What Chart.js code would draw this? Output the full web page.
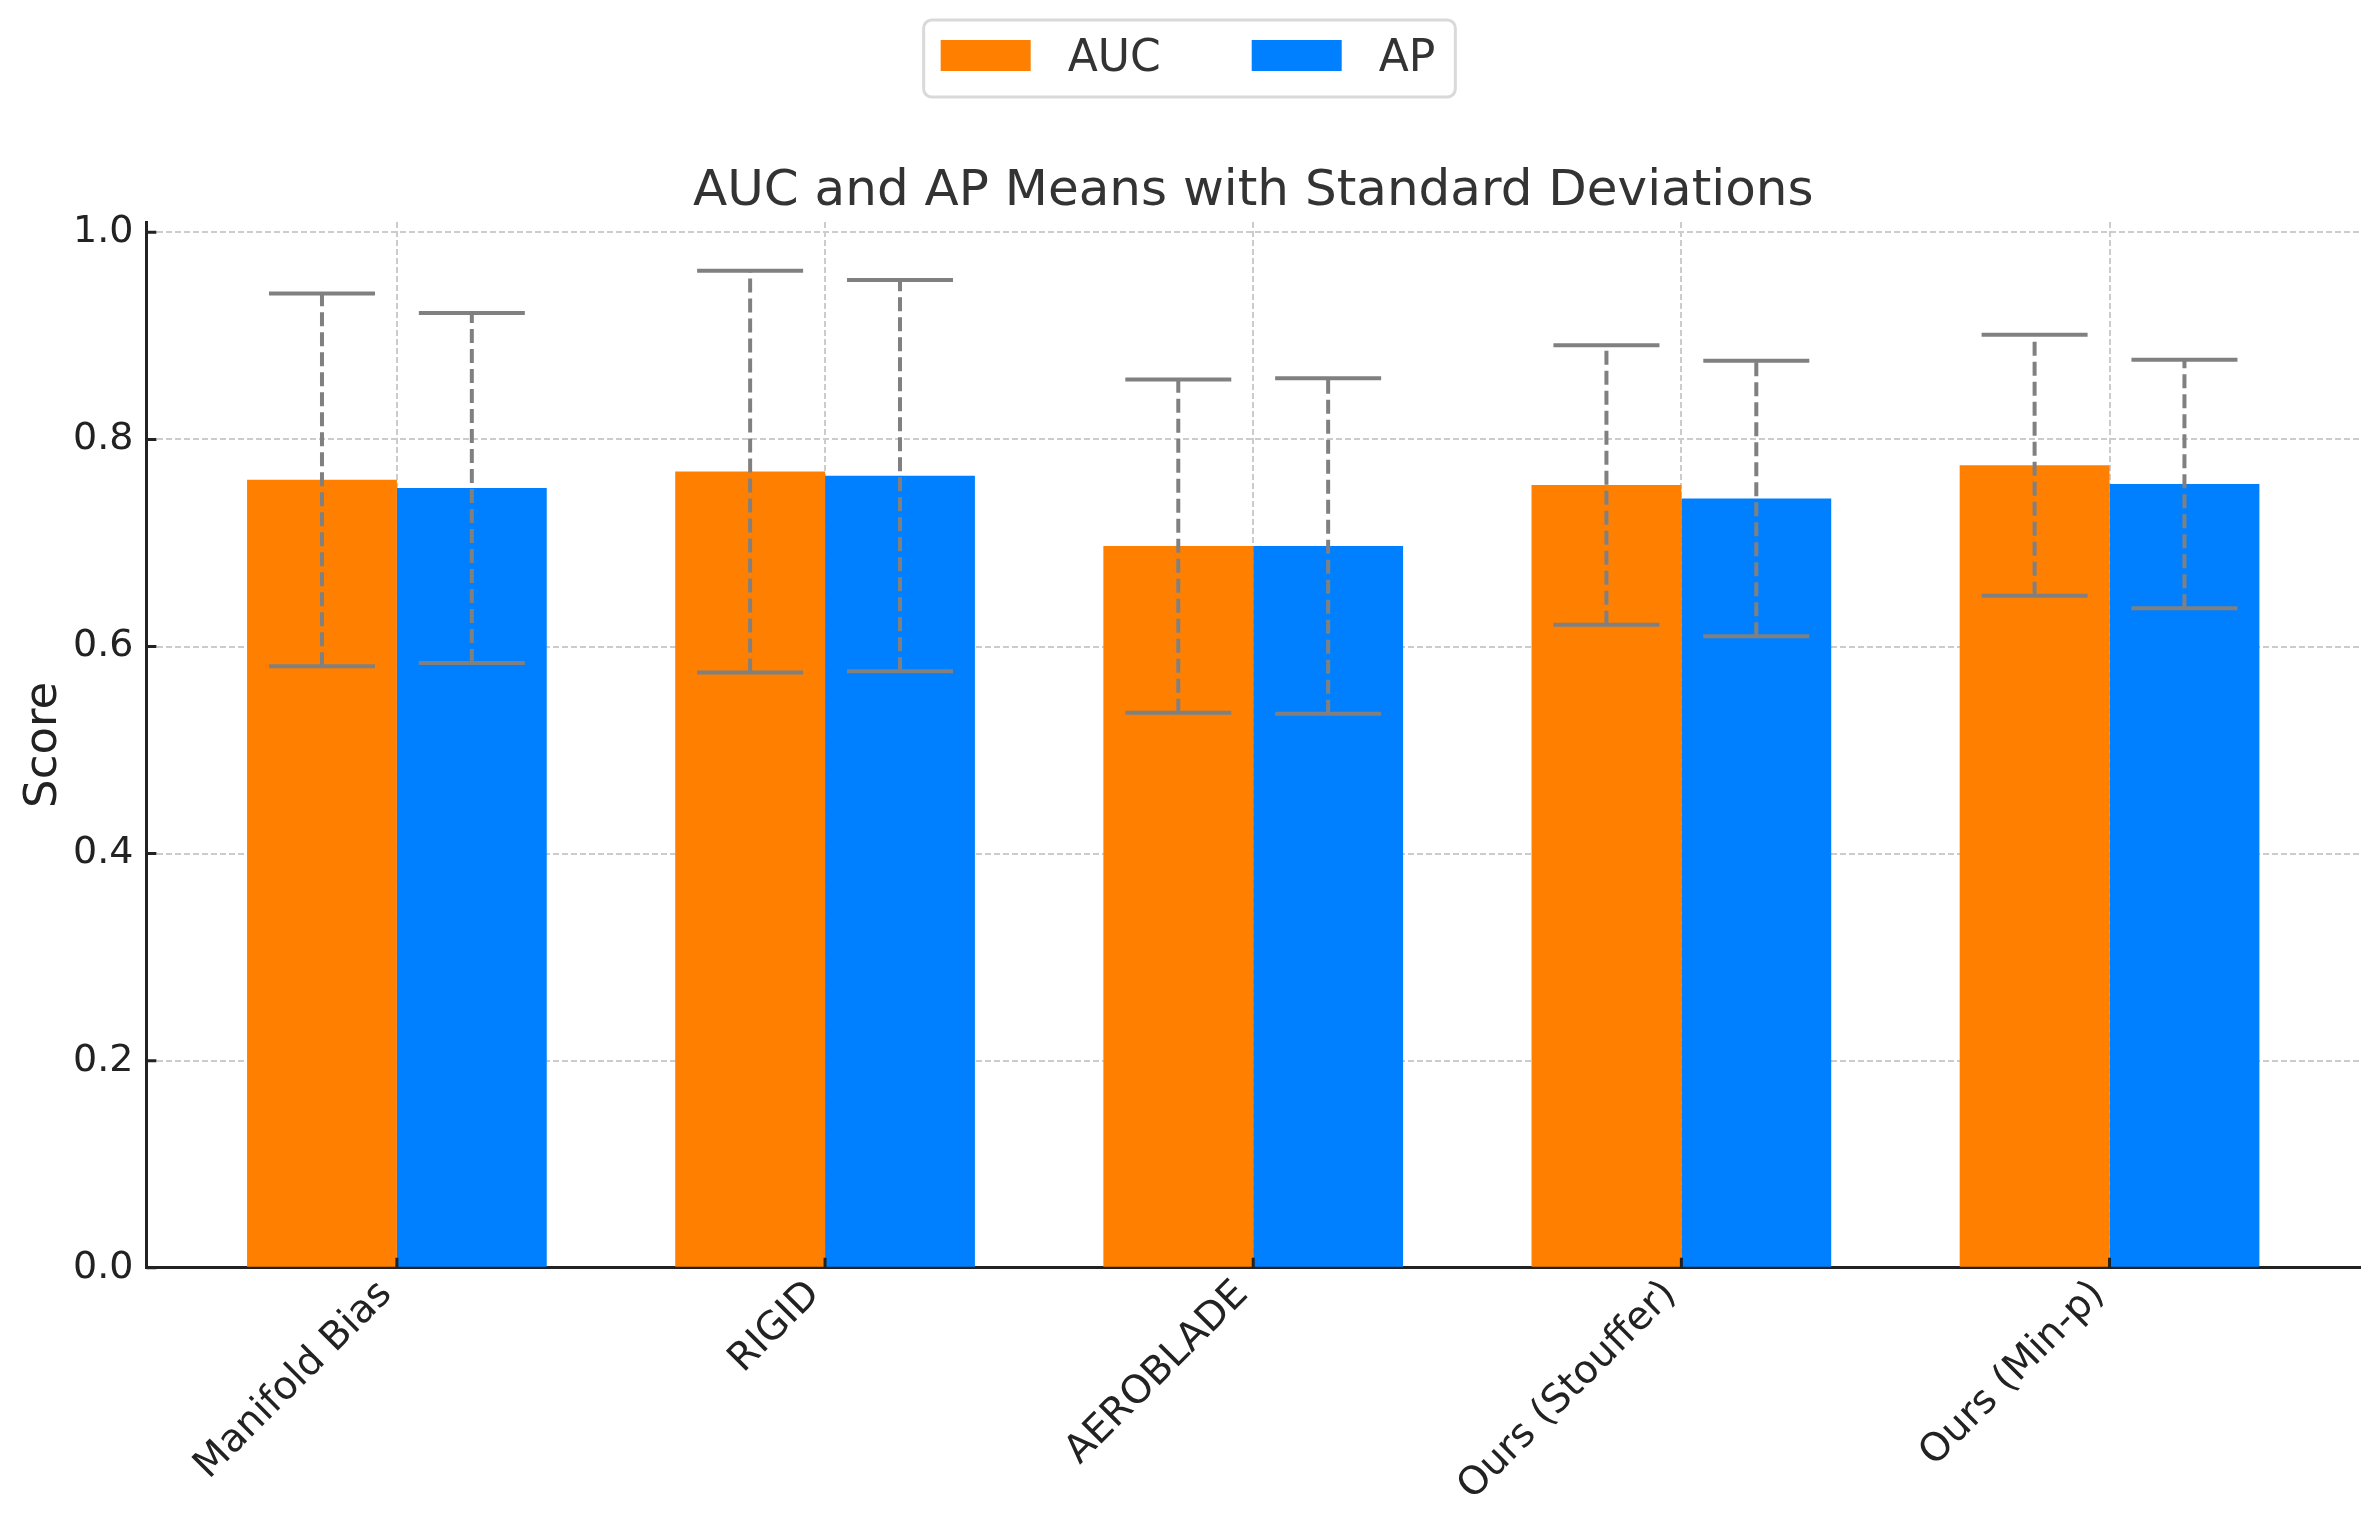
<!DOCTYPE html>
<html lang="en">
<head>
  <meta charset="UTF-8">
  <title>AUC and AP Means with Standard Deviations</title>
  <script src="https://cdn.jsdelivr.net/npm/chart.js"></script>
  <style>
    html, body {
      margin: 0;
      padding: 0;
      background: #ffffff;
    }
    .chart-box {
      width: 2379px;
      height: 1527px;
      position: relative;
    }
  </style>
</head>
<body>
  <div class="chart-box">
    <canvas id="scoreChart"></canvas>
  </div>

  <script>
    const methods = ['Manifold Bias', 'RIGID', 'AEROBLADE', 'Ours (Stouffer)', 'Ours (Min-p)'];
    const aucMean = [0.761, 0.769, 0.697, 0.756, 0.775];
    const aucStd = [0.180, 0.194, 0.161, 0.135, 0.126];
    const apMean = [0.753, 0.765, 0.697, 0.743, 0.757];
    const apStd = [0.169, 0.189, 0.162, 0.133, 0.120];
    const yTicks = [0.0, 0.2, 0.4, 0.6, 0.8, 1.0];

    const fontFamily = "'DejaVu Sans', sans-serif";
    const textColor = '#333333';
    const gridColor = '#cccccc';

    // matplotlib style error bars: dashed stem, solid caps
    const errorBars = {
      id: 'errorBars',
      afterDraw(chart) {
        const ctx = chart.ctx;
        const y = chart.scales.y;
        const sets = [[aucMean, aucStd], [apMean, apStd]];
        ctx.save();
        ctx.strokeStyle = '#808080';
        ctx.lineWidth = 4;
        sets.forEach(function (s, d) {
          const meta = chart.getDatasetMeta(d);
          meta.data.forEach(function (bar, i) {
            const hi = y.getPixelForValue(s[0][i] + s[1][i]);
            const lo = y.getPixelForValue(s[0][i] - s[1][i]);
            ctx.setLineDash([14, 6]);
            ctx.beginPath();
            ctx.moveTo(bar.x, lo);
            ctx.lineTo(bar.x, hi);
            ctx.stroke();
            ctx.setLineDash([]);
            ctx.beginPath();
            ctx.moveTo(bar.x - 53, hi);
            ctx.lineTo(bar.x + 53, hi);
            ctx.moveTo(bar.x - 53, lo);
            ctx.lineTo(bar.x + 53, lo);
            ctx.stroke();
          });
        });
        ctx.restore();
      }
    };

    // short tick marks pointing into the plot
    const innerTicks = {
      id: 'innerTicks',
      afterDraw(chart) {
        const ctx = chart.ctx;
        const xs = chart.scales.x;
        const ys = chart.scales.y;
        const area = chart.chartArea;
        ctx.save();
        ctx.strokeStyle = '#222222';
        ctx.lineWidth = 3;
        ctx.beginPath();
        yTicks.forEach(function (v) {
          const py = ys.getPixelForValue(v);
          ctx.moveTo(area.left, py);
          ctx.lineTo(area.left + 10, py);
        });
        methods.forEach(function (m, i) {
          const px = xs.getPixelForValue(i);
          ctx.moveTo(px, area.bottom);
          ctx.lineTo(px, area.bottom - 10);
        });
        ctx.stroke();
        ctx.restore();
      }
    };

    // framed legend above the title
    const boxLegend = {
      id: 'boxLegend',
      afterDraw(chart) {
        const ctx = chart.ctx;
        const sets = chart.data.datasets;
        ctx.save();
        ctx.font = '44px ' + fontFamily;
        ctx.textBaseline = 'alphabetic';
        const widths = sets.map(function (ds) { return ctx.measureText(ds.label).width; });
        const total = 17 + 90 + 37 + widths[0] + 91 + 90 + 37 + widths[1] + 20;
        const left = chart.width / 2 - total / 2;
        ctx.strokeStyle = '#d9d9d9';
        ctx.lineWidth = 3;
        ctx.beginPath();
        ctx.roundRect(left, 20, total, 77, 8);
        ctx.stroke();
        let x = left + 17;
        sets.forEach(function (ds, i) {
          ctx.fillStyle = ds.backgroundColor;
          ctx.fillRect(x, 40, 90, 31);
          ctx.fillStyle = textColor;
          ctx.fillText(ds.label, x + 90 + 37, 71);
          x += 90 + 37 + widths[i] + 91;
        });
        ctx.restore();
      }
    };

    document.addEventListener('DOMContentLoaded', function () {
      const ctx = document.getElementById('scoreChart').getContext('2d');

      window.scoreChart = new Chart(ctx, {
        type: 'bar',
        data: {
          datasets: [{
            label: 'AUC',
            backgroundColor: '#ff8000',
            data: aucMean.map(function (v, i) { return { x: i, y: v }; })
          }, {
            label: 'AP',
            backgroundColor: '#0080ff',
            data: apMean.map(function (v, i) { return { x: i, y: v }; })
          }]
        },
        options: {
          responsive: true,
          maintainAspectRatio: false,
          devicePixelRatio: 1,
          animation: false,
          categoryPercentage: 0.7,
          barPercentage: 1.0,
          layout: { padding: { top: 162, right: 19, bottom: 13, left: 0 } },
          plugins: {
            legend: { display: false },
            tooltip: { enabled: false },
            title: {
              display: true,
              fullSize: false,
              text: 'AUC and AP Means with Standard Deviations',
              color: textColor,
              font: { family: fontFamily, size: 50, weight: 'normal' },
              padding: { top: 0, bottom: 0 }
            }
          },
          scales: {
            x: {
              type: 'linear',
              offset: false,
              min: -0.585,
              max: 4.585,
              z: 1,
              afterBuildTicks: function (scale) {
                scale.ticks = methods.map(function (m, i) { return { value: i }; });
              },
              ticks: {
                autoSkip: false,
                minRotation: 45,
                maxRotation: 45,
                padding: 4,
                labelOffset: -11,
                color: '#222222',
                font: { family: fontFamily, size: 39 },
                callback: function (value, index) { return methods[index]; }
              },
              grid: { color: gridColor, lineWidth: 2, drawTicks: false, offset: false },
              border: { display: true, color: '#222222', width: 3, dash: [6, 3] }
            },
            y: {
              min: 0,
              max: 1.01,
              z: 1,
              afterBuildTicks: function (scale) {
                scale.ticks = yTicks.map(function (v) { return { value: v }; });
              },
              ticks: {
                padding: 13,
                color: '#222222',
                font: { family: fontFamily, size: 38 },
                callback: function (value) { return value.toFixed(1); }
              },
              grid: { color: gridColor, lineWidth: 2, drawTicks: false },
              border: { display: true, color: '#222222', width: 3, dash: [6, 3] },
              title: {
                display: true,
                text: 'Score',
                color: '#222222',
                font: { family: fontFamily, size: 45 },
                padding: { top: 17, bottom: -11 }
              }
            }
          }
        },
        plugins: [errorBars, innerTicks, boxLegend]
      });
    });
  </script>
</body>
</html>
